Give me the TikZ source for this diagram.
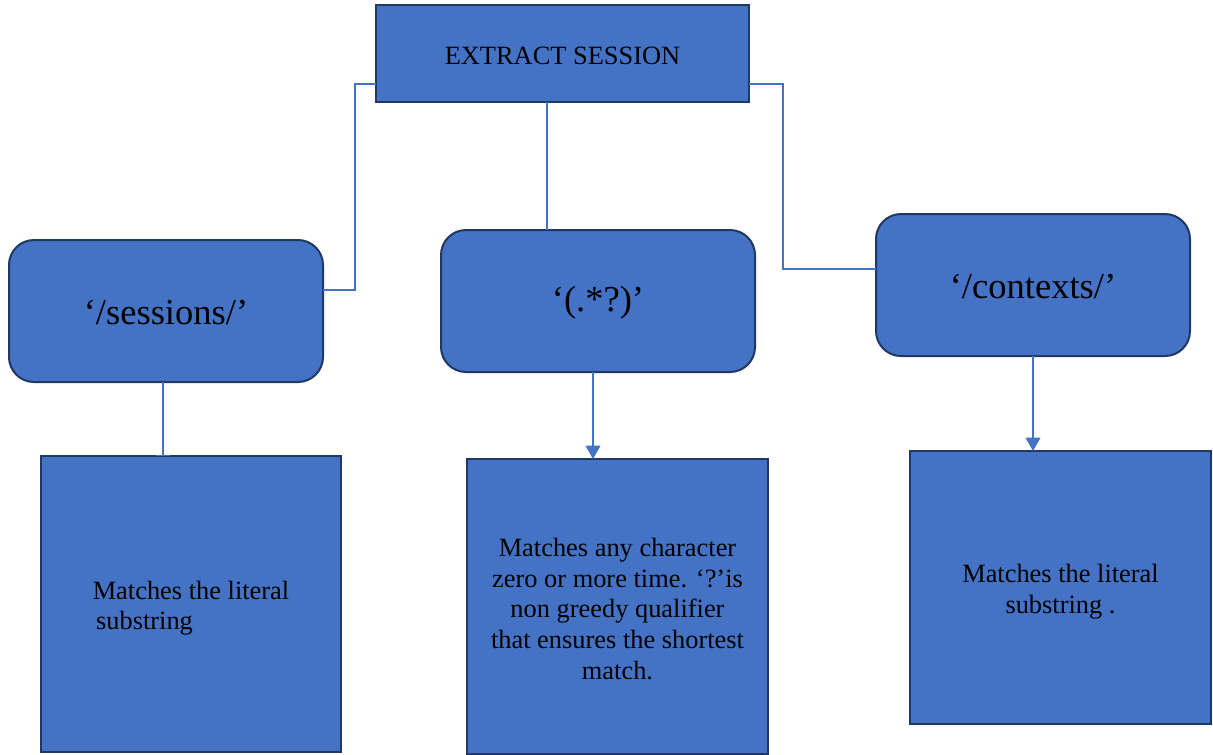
\documentclass[tikz,border=0pt]{standalone}
\usepackage{fontspec}
\setmainfont{Liberation Serif}
\usetikzlibrary{calc,arrows.meta}
\definecolor{boxfill}{HTML}{4472C4}
\definecolor{boxline}{HTML}{203864}
\definecolor{connc}{HTML}{4472C4}
\tikzset{
  box/.style={draw=boxline, fill=boxfill, line width=1.5pt, inner sep=0pt, outer sep=0pt},
  rbox/.style={box, rounded corners=18.75pt, minimum width=235.5pt, minimum height=106.5pt},
  bigtxt/.style={inner sep=0pt, text=black, font=\fontsize{27.4pt}{32pt}\selectfont},
  smalltxt/.style={inner sep=0pt, text=black, font=\fontsize{19.8pt}{22.9pt}\selectfont},
  conn/.style={draw=connc, line width=1.1pt},
  arr/.style={conn, -{Triangle[length=10pt,width=11pt]}},
  bararr/.style={conn, -{Bar[width=11pt,line width=1.1pt]}}
}
\begin{document}
\begin{tikzpicture}[x=0.75pt,y=-0.75pt]
\useasboundingbox (0,0) rectangle (1213,754);
% boxes
\node[box, minimum width=279.75pt, minimum height=72.75pt] (top) at (562.5,53.5) {};
\node[rbox] (sess) at (166,311) {};
\node[rbox] (dot) at (598,301) {};
\node[rbox] (ctx) at (1033,285) {};
\node[box, minimum width=225pt, minimum height=222pt] (lb) at (191,604) {};
\node[box, minimum width=225.75pt, minimum height=221.25pt] (mb) at (617.5,606.5) {};
\node[box, minimum width=225.75pt, minimum height=204.75pt] (rb) at (1060.5,587.5) {};
% texts
\node[smalltxt] (toptxt) at ($(top)+(0,2)$) {EXTRACT SESSION};
\node[bigtxt] (sesstxt) at ($(sess)+(0,2)$) {‘/sessions/’};
\node[bigtxt] (dottxt) at ($(dot)+(0,2)$) {‘(.*?)’};
\node[bigtxt] (ctxtxt) at ($(ctx)+(0,2)$) {‘/contexts/’};
\node[smalltxt, align=left] (lbtxt) at ($(lb)+(0,4)$) {Matches the literal\\\hspace*{2.5pt}substring};
\node[smalltxt, align=center] (mbtxt) at ($(mb)+(0,2.5)$) {Matches any character\\zero or more time. ‘?’is\\non greedy qualifier\\that ensures the shortest\\match.};
\node[smalltxt, align=center] (rbtxt) at ($(rb)+(0,4)$) {Matches the literal\\substring .};
% connectors
\draw[conn] ($(top.south west)+(0,-18)$) -- ++(-21,0) |- ($(sess.east)+(0,-21)$);
\draw[conn] ($(top.south east)+(0,-18)$) -- ++(34,0) |- ($(ctx.west)+(0,-16)$);
\draw[conn] ($(top.south)+(-15.5,0)$) coordinate (tm) -- (tm |- dot.north);
\draw[bararr] ($(sess.south)+(-3,0)$) coordinate (sl) -- (sl |- lb.north);
\draw[arr] ($(dot.south)+(-5,0)$) coordinate (dl) -- (dl |- mb.north);
\draw[arr] (ctx.south) -- (ctx.south |- rb.north);
\end{tikzpicture}
\end{document}
